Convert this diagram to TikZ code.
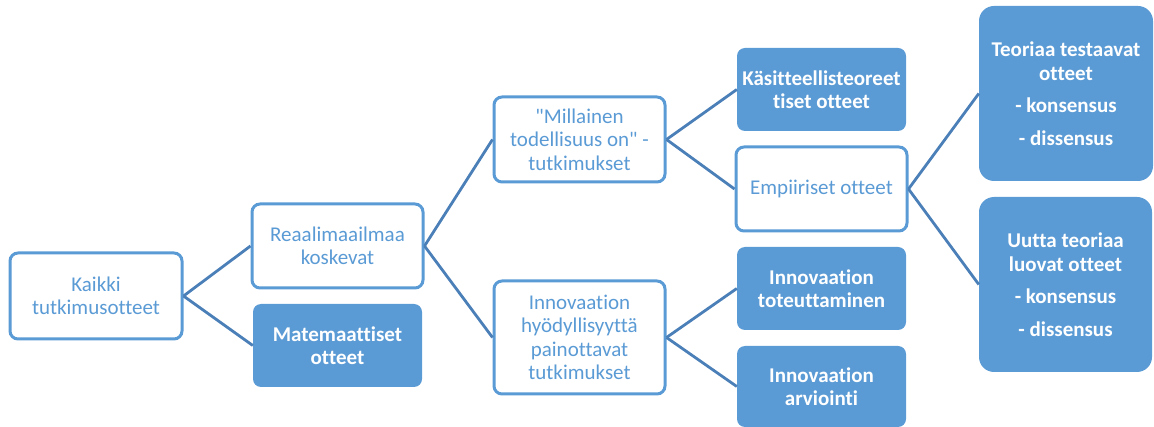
\documentclass[tikz,border=0pt]{standalone}
\usepackage{fontspec}
\setmainfont{Carlito}[Ligatures=NoCommon]
\definecolor{accent}{HTML}{5B9BD5}
\definecolor{linkline}{HTML}{4A7FB7}
\tikzset{
  base/.style={rounded corners=8pt, inner sep=0pt, align=center,
    font=\fontsize{21}{23.5}\selectfont},
  openbox/.style={base, draw=accent, line width=3pt, fill=white, text=accent},
  solidbox/.style={base, fill=accent, text=white, font=\fontsize{21}{23.5}\selectfont\bfseries},
  bigbox/.style={solidbox, rounded corners=15pt},
  link/.style={draw=linkline, line width=2.8pt}
}
\begin{document}
\begin{tikzpicture}[x=1pt, y=-1pt]
\useasboundingbox (0,0) rectangle (1154,427);

% first level
\node[openbox, minimum width=172pt, minimum height=86pt] (kaikki) at (96,296) {Kaikki\\tutkimusotteet};

% second level
\node[openbox, minimum width=171pt, minimum height=84pt] (reaali) at (337.5,246) {Reaalimaailmaa\\koskevat};
\node[solidbox, minimum width=169pt, minimum height=83pt] (mate) at (337.5,345.5) {Matemaattiset\\otteet};

% third level
\node[openbox, minimum width=171pt, minimum height=85pt] (mill) at (579.5,139.5) {\textquotedbl Millainen\\todellisuus on\textquotedbl\ -\\tutkimukset};
\node[openbox, minimum width=171pt, minimum height=113pt] (innov) at (579.5,337.5) {Innovaation\\hyödyllisyyttä\\painottavat\\tutkimukset};

% fourth level
\node[solidbox, minimum width=169pt, minimum height=83pt] (kasit) at (821.5,89.5) {Käsitteellisteoreet\\tiset otteet};
\node[openbox, minimum width=171pt, minimum height=84pt] (empi) at (821.5,189) {Empiiriset otteet};
\node[solidbox, minimum width=169pt, minimum height=83pt] (tot) at (821.5,288.5) {Innovaation\\toteuttaminen};
\node[solidbox, minimum width=169pt, minimum height=81pt] (arv) at (821.5,386.5) {Innovaation\\arviointi};

% fifth level
\node[bigbox, minimum width=174pt, minimum height=175pt] (teor) at (1066,93.5) {Teoriaa testaavat\\otteet\\[9pt]- konsensus\\[9pt]- dissensus};
\node[bigbox, minimum width=173pt, minimum height=175pt] (uutta) at (1065.5,284.5) {Uutta teoriaa\\luovat otteet\\[9pt]- konsensus\\[9pt]- dissensus};

% connectors
\draw[link] (kaikki.east) -- (reaali.west);
\draw[link] (kaikki.east) -- (mate.west);
\draw[link] (reaali.east) -- (mill.west);
\draw[link] (reaali.east) -- (innov.west);
\draw[link] (mill.east) -- (kasit.west);
\draw[link] (mill.east) -- (empi.west);
\draw[link] (innov.east) -- (tot.west);
\draw[link] (innov.east) -- (arv.west);
\draw[link] (empi.east) -- (teor.west);
\draw[link] (empi.east) -- (uutta.west);
\end{tikzpicture}
\end{document}
